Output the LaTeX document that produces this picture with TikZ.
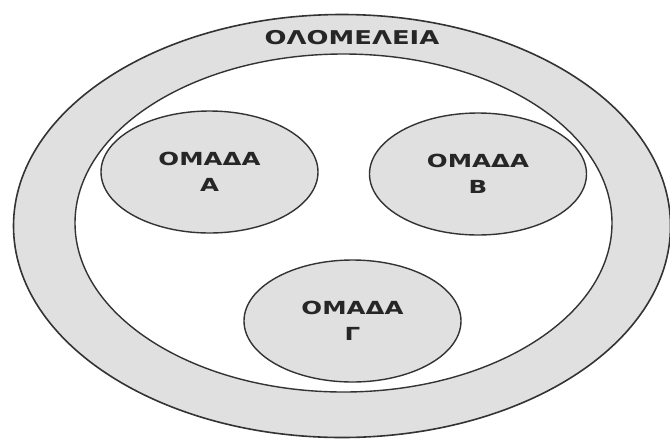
\documentclass[tikz,border=0pt]{standalone}
\usepackage{fontspec}
\setmainfont{DejaVu Sans}
\newfontfamily\wfont[FakeStretch=1.36]{DejaVu Sans}
\usetikzlibrary{shapes.geometric}
\definecolor{speckle}{HTML}{E0E0E0}
\tikzset{
  ringfill/.style={ellipse, draw=black!80, line width=1.6pt, fill=speckle, inner sep=0pt},
  holefill/.style={ellipse, draw=black!80, line width=1.4pt, fill=white, inner sep=0pt},
  groupnode/.style={ellipse, draw=black!80, line width=1.4pt, fill=speckle, inner sep=0pt,
    minimum width=217pt, minimum height=122pt, align=center,
    font=\wfont\bfseries\fontsize{18}{26}\selectfont, text=black!85},
  titlenode/.style={font=\wfont\bfseries\fontsize{19}{23}\selectfont, text=black!85, inner sep=0pt}
}
\begin{document}
\begin{tikzpicture}[x=1pt,y=-1pt]
\useasboundingbox (0,0) rectangle (670,440);
\node[ringfill, minimum width=657pt, minimum height=423pt] (outer) at (342,226) {};
\node[holefill, minimum width=537pt, minimum height=338pt] (inner) at (343.5,223) {};
\node[titlenode] (title) at (352,38) {ΟΛΟΜΕΛΕΙΑ};
\node[groupnode] (ga) at (209.5,172) {ΟΜΑΔΑ\\Α};
\node[groupnode] (gb) at (478,174) {ΟΜΑΔΑ\\Β};
\node[groupnode] (gc) at (352.5,321) {ΟΜΑΔΑ\\Γ};
\end{tikzpicture}
\end{document}
